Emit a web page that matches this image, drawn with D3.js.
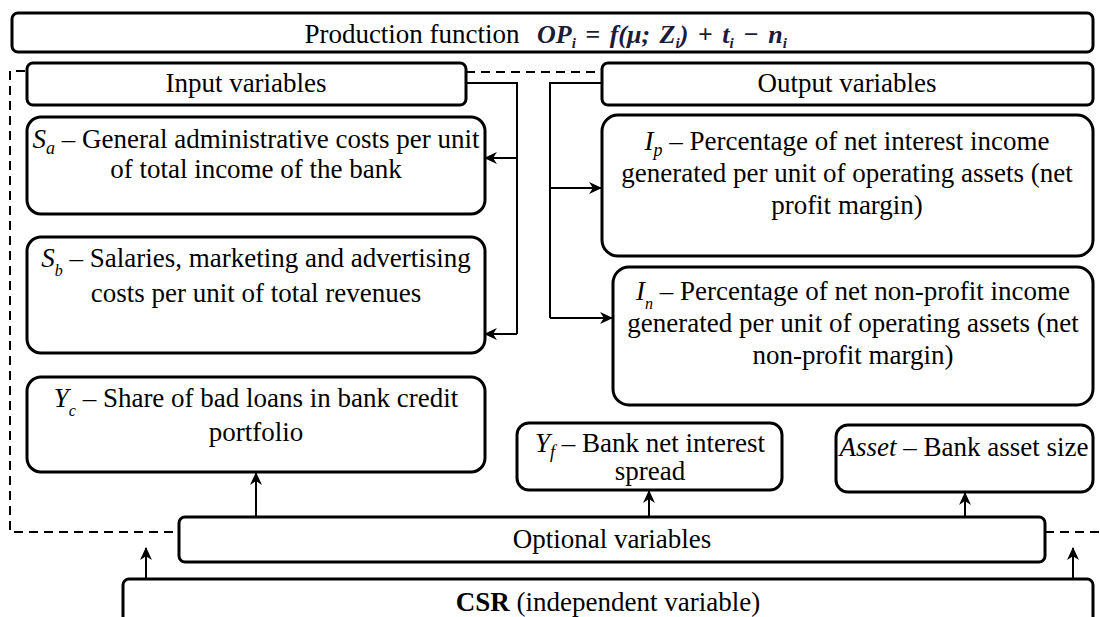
<!DOCTYPE html>
<html>
    <head>
        <meta charset="utf-8">
        <title>CSR model</title>
        <script src="https://d3js.org/d3.v7.min.js" charset="utf-8"></script>
        <style>
            body { margin: 0; background: #fff; }
            .box { fill: #fff; stroke: #000; stroke-width: 3px; }
            .link { fill: none; stroke: #000; stroke-width: 2px; }
            .dash { fill: none; stroke: #000; stroke-width: 2px; stroke-dasharray: 9,6; }
            text { font-family: 'Liberation Serif', 'DejaVu Serif'; font-size: 27px; fill: #000; }
        </style>
    </head>
    <body>
        <script>
            var width = 1100;
            var height = 617;

            // labels of the boxes (segments: [text, style])
            var boxNames = ["top", "input", "output", "sa", "sb", "yc", "ip", "in", "yf", "asset", "optional", "csr"];
            var boxLabels = [
                [[["Production function", ""]]],
                [[["Input variables", ""]]],
                [[["Output variables", ""]]],
                [[["S", "i"], ["a", "sub"], [" – General administrative costs per unit", ""]], [["of total income of the bank", ""]]],
                [[["S", "i"], ["b", "low"], [" – Salaries, marketing and advertising", ""]], [["costs per unit of total revenues", ""]]],
                [[["Y", "i"], ["c", "low"], [" – Share of bad loans in bank credit", ""]], [["portfolio", ""]]],
                [[["I", "i"], ["p", "sub"], [" – Percentage of net interest income", ""]], [["generated per unit of operating assets (net", ""]], [["profit margin)", ""]]],
                [[["I", "i"], ["n", "low"], [" – Percentage of net non-profit income", ""]], [["generated per unit of operating assets (net", ""]], [["non-profit margin)", ""]]],
                [[["Y", "i"], ["f", "sub"], [" – Bank net interest", ""]], [["spread", ""]]],
                [[["Asset", "i"], [" – Bank asset size", ""]]],
                [[["Optional variables", ""]]],
                [[["CSR", "b"], [" (independent variable)", ""]]]
            ];
            // formula written next to "Production function"
            var formula = [["OP", "f"], ["i", "fsub"], [" = ", "f"], ["f", "f"], ["(μ; Z", "f"], ["i", "fsub"], [")  + t", "f"], ["i", "fsub"], [" − n", "f"], ["i", "fsub"]];

            // box geometry in reference pixel units [x, y, w, h, corner]
            var boxFrames = [
                [12, 13, 1081, 39, 6],
                [27, 63, 439, 42, 6],
                [602, 63, 491, 42, 6],
                [27, 117, 458, 97, 14],
                [27, 237, 458, 116, 14],
                [27, 377, 458, 95, 14],
                [602, 115, 491, 141, 16],
                [613, 267, 480, 138, 16],
                [517, 423, 265, 67, 12],
                [836, 425, 257, 67, 12],
                [179, 517, 866, 45, 6],
                [123, 579, 970, 60, 6]
            ];
            // first baseline and line step per box
            var boxBaselines = [[43, 0], [92, 0], [92, 0], [148, 30], [267, 35], [407, 34], [150, 32], [300, 32], [452, 28], [456, 0], [548, 0], [611, 0]];
            var boxCenters = [412, 246, 847, 256, 256, 256, 847, 853, 650, 964, 612, 608];

            var x = d3.scaleLinear().domain([0, 1100]).range([0, width]);
            var y = d3.scaleLinear().domain([0, 617]).range([0, height]);

            var svg = d3.select("body").append("svg")
                            .attr("width", width)
                            .attr("height", height);

            svg.append("defs").append("marker")
                    .attr("id", "arrow")
                    .attr("viewBox", "0 -6 12 12")
                    .attr("refX", 11)
                    .attr("refY", 0)
                    .attr("markerUnits", "userSpaceOnUse")
                    .attr("markerWidth", 13)
                    .attr("markerHeight", 13)
                    .attr("orient", "auto")
                .append("path")
                    .attr("d", "M0,-5.5L12,0L0,5.5L3.5,0Z")
                    .attr("fill", "#000");

            // dashed frame
            var dashPaths = [
                [[25, 71], [10, 71], [10, 532], [179, 532]],
                [[466, 72], [602, 72]],
                [[1045, 532], [1100, 532]]
            ];
            // connectors (plain) and arrows
            var linkPaths = [
                [[466, 83], [517, 83], [517, 334]],
                [[602, 83], [550, 83], [550, 318]]
            ];
            var arrowPaths = [
                [[517, 158], [485, 158]],
                [[517, 334], [485, 334]],
                [[550, 188], [601, 188]],
                [[550, 318], [612, 318]],
                [[256, 517], [256, 473]],
                [[649, 517], [649, 491]],
                [[965, 517], [965, 493]],
                [[146, 579], [146, 548]],
                [[1073, 579], [1073, 548]]
            ];

            var line = d3.line().x(function(d) { return x(d[0]); }).y(function(d) { return y(d[1]); });

            svg.selectAll(".dash").data(dashPaths).enter().append("path")
                    .attr("class", "dash").attr("d", line);
            svg.selectAll(".link.plain").data(linkPaths).enter().append("path")
                    .attr("class", "link plain").attr("d", line);
            svg.selectAll(".link.arr").data(arrowPaths).enter().append("path")
                    .attr("class", "link arr").attr("d", line)
                    .attr("marker-end", "url(#arrow)");

            var boxes = boxNames.map(function(n, i) {
                return { name: n, f: boxFrames[i], lines: boxLabels[i], base: boxBaselines[i], cx: boxCenters[i] };
            });

            var g = svg.selectAll(".node").data(boxes).enter().append("g").attr("class", "node");

            g.append("rect")
                    .attr("class", "box")
                    .attr("x", function(d) { return x(d.f[0]); })
                    .attr("y", function(d) { return y(d.f[1]); })
                    .attr("width", function(d) { return x(d.f[2]); })
                    .attr("height", function(d) { return y(d.f[3]); })
                    .attr("rx", function(d) { return d.f[4]; });

            function addSegments(t, segs) {
                var shift = 0;
                segs.forEach(function(s) {
                    var st = s[1];
                    var want = st == "sub" ? 6 : (st == "fsub" ? 5 : (st == "low" ? 9 : 0));
                    var ts = t.append("tspan").attr("dy", want - shift).text(s[0]);
                    shift = want;
                    if (st == "i" || st == "sub" || st == "low") ts.style("font-style", "italic");
                    if (st == "sub") ts.style("font-size", "18px");
                    if (st == "low") ts.style("font-size", "16px");
                    if (st == "b") ts.style("font-weight", "bold");
                    if (st == "f" || st == "fsub") {
                        ts.style("font-style", "italic").style("font-weight", "bold")
                          .style("fill", "#1b1b3a")
                          .style("font-size", st == "fsub" ? "15px" : "26px");
                    }
                });
            }

            // text with sub-scripts
            g.each(function(d) {
                var grp = d3.select(this);
                d.lines.forEach(function(segs, li) {
                    var t = grp.append("text")
                            .attr("text-anchor", "middle")
                            .attr("x", x(d.cx))
                            .attr("y", y(d.base[0] + li * d.base[1]));
                    addSegments(t, segs);
                });
            });

            var ft = svg.append("text")
                    .attr("x", x(537))
                    .attr("y", y(43))
                    .attr("word-spacing", 3);
            addSegments(ft, formula);
        </script>
    </body>
</html>
